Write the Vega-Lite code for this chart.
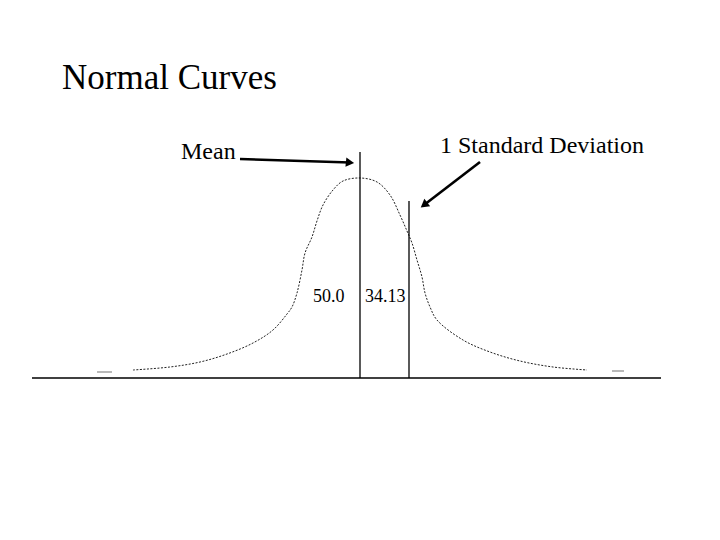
{
  "$schema": "https://vega.github.io/schema/vega-lite/v6.json",
  "width": 720,
  "height": 540,
  "autosize": {"type": "fit", "contains": "padding"},
  "padding": 0,
  "background": "white",
  "config": {"view": {"stroke": null}},
  "datasets": {
    "curve": [
      {"z": -4.633, "h": 0.04},
      {"z": -3.878, "h": 0.055},
      {"z": -3.265, "h": 0.08},
      {"z": -2.714, "h": 0.12},
      {"z": -2.184, "h": 0.175},
      {"z": -1.776, "h": 0.24},
      {"z": -1.49, "h": 0.32},
      {"z": -1.388, "h": 0.355},
      {"z": -1.286, "h": 0.425},
      {"z": -1.184, "h": 0.54},
      {"z": -1.122, "h": 0.625},
      {"z": -0.98, "h": 0.705},
      {"z": -0.878, "h": 0.785},
      {"z": -0.755, "h": 0.865},
      {"z": -0.551, "h": 0.94},
      {"z": -0.347, "h": 0.985},
      {"z": 0.0, "h": 1.0},
      {"z": 0.347, "h": 0.98},
      {"z": 0.612, "h": 0.915},
      {"z": 0.816, "h": 0.815},
      {"z": 0.959, "h": 0.735},
      {"z": 1.061, "h": 0.675},
      {"z": 1.163, "h": 0.59},
      {"z": 1.265, "h": 0.505},
      {"z": 1.327, "h": 0.425},
      {"z": 1.429, "h": 0.355},
      {"z": 1.571, "h": 0.29},
      {"z": 2.102, "h": 0.19},
      {"z": 2.653, "h": 0.13},
      {"z": 3.265, "h": 0.085},
      {"z": 3.939, "h": 0.055},
      {"z": 4.633, "h": 0.04}
    ],
    "tails": [
      {"z": -5.367, "z2": -5.061, "h": 0.03},
      {"z": 5.143, "z2": 5.388, "h": 0.035}
    ],
    "baseline": [{"z": -6.694, "z2": 6.143, "h": 0}],
    "verticals": [
      {"z": 0, "h": 0, "h2": 1.13},
      {"z": 1, "h": 0, "h2": 0.885}
    ],
    "arrowMean": [{"z": -2.449, "h": 1.095, "z2": -0.204, "h2": 1.0775}],
    "arrowSD": [{"z": 2.449, "h": 1.08, "z2": 1.306, "h2": 0.865}],
    "labels": [
      {"z": -6.08, "h": 1.445, "text": "Normal Curves", "kind": "title"},
      {"z": -3.653, "h": 1.095, "text": "Mean", "kind": "note"},
      {"z": 1.633, "h": 1.125, "text": "1 Standard Deviation", "kind": "note"},
      {"z": -0.959, "h": 0.38, "text": "50.0", "kind": "value"},
      {"z": 0.102, "h": 0.38, "text": "34.13", "kind": "value"}
    ]
  },
  "layer": [
    {
      "data": {"name": "baseline"},
      "mark": {"type": "rule", "color": "black", "strokeWidth": 1.6},
      "encoding": {
        "x": {"field": "z", "type": "quantitative", "scale": {"domain": [-7.347, 7.347], "nice": false, "zero": false}, "axis": null},
        "x2": {"field": "z2"},
        "y": {"field": "h", "type": "quantitative", "scale": {"domain": [-0.81, 1.89], "nice": false, "zero": false}, "axis": null}
      }
    },
    {
      "data": {"name": "tails"},
      "mark": {"type": "rule", "color": "#8a8a8a", "strokeWidth": 1.2},
      "encoding": {
        "x": {"field": "z", "type": "quantitative"},
        "x2": {"field": "z2"},
        "y": {"field": "h", "type": "quantitative"}
      }
    },
    {
      "data": {"name": "curve"},
      "mark": {"type": "line", "color": "#222222", "strokeWidth": 1, "strokeDash": [2, 1.5], "interpolate": "catmull-rom"},
      "encoding": {
        "x": {"field": "z", "type": "quantitative"},
        "y": {"field": "h", "type": "quantitative"}
      }
    },
    {
      "data": {"name": "verticals"},
      "mark": {"type": "rule", "color": "black", "strokeWidth": 1.3},
      "encoding": {
        "x": {"field": "z", "type": "quantitative"},
        "y": {"field": "h", "type": "quantitative"},
        "y2": {"field": "h2"}
      }
    },
    {
      "data": {"name": "arrowMean"},
      "layer": [
        {
          "mark": {"type": "rule", "color": "black", "strokeWidth": 2.6},
          "encoding": {
            "x": {"field": "z", "type": "quantitative"},
            "y": {"field": "h", "type": "quantitative"},
            "x2": {"field": "z2"},
            "y2": {"field": "h2"}
          }
        },
        {
          "mark": {"type": "point", "shape": "triangle-right", "filled": true, "color": "black", "size": 90, "angle": 5.6, "opacity": 1},
          "encoding": {
            "x": {"field": "z2", "type": "quantitative"},
            "y": {"field": "h2", "type": "quantitative"}
          }
        }
      ]
    },
    {
      "data": {"name": "arrowSD"},
      "layer": [
        {
          "mark": {"type": "rule", "color": "black", "strokeWidth": 2.6},
          "encoding": {
            "x": {"field": "z", "type": "quantitative"},
            "y": {"field": "h", "type": "quantitative"},
            "x2": {"field": "z2"},
            "y2": {"field": "h2"}
          }
        },
        {
          "mark": {"type": "point", "shape": "triangle-right", "filled": true, "color": "black", "size": 90, "angle": 142.5, "opacity": 1},
          "encoding": {
            "x": {"field": "z2", "type": "quantitative"},
            "y": {"field": "h2", "type": "quantitative"}
          }
        }
      ]
    },
    {
      "data": {"name": "labels"},
      "transform": [{"filter": "datum.kind === 'title'"}],
      "mark": {"type": "text", "font": "Liberation Serif", "fontSize": 35, "align": "left", "baseline": "alphabetic", "color": "black"},
      "encoding": {
        "x": {"field": "z", "type": "quantitative"},
        "y": {"field": "h", "type": "quantitative"},
        "text": {"field": "text"}
      }
    },
    {
      "data": {"name": "labels"},
      "transform": [{"filter": "datum.kind === 'note'"}],
      "mark": {"type": "text", "font": "Liberation Serif", "fontSize": 24, "align": "left", "baseline": "alphabetic", "color": "black"},
      "encoding": {
        "x": {"field": "z", "type": "quantitative"},
        "y": {"field": "h", "type": "quantitative"},
        "text": {"field": "text"}
      }
    },
    {
      "data": {"name": "labels"},
      "transform": [{"filter": "datum.kind === 'value'"}],
      "mark": {"type": "text", "font": "Liberation Serif", "fontSize": 18, "align": "left", "baseline": "alphabetic", "color": "black"},
      "encoding": {
        "x": {"field": "z", "type": "quantitative"},
        "y": {"field": "h", "type": "quantitative"},
        "text": {"field": "text"}
      }
    }
  ]
}
